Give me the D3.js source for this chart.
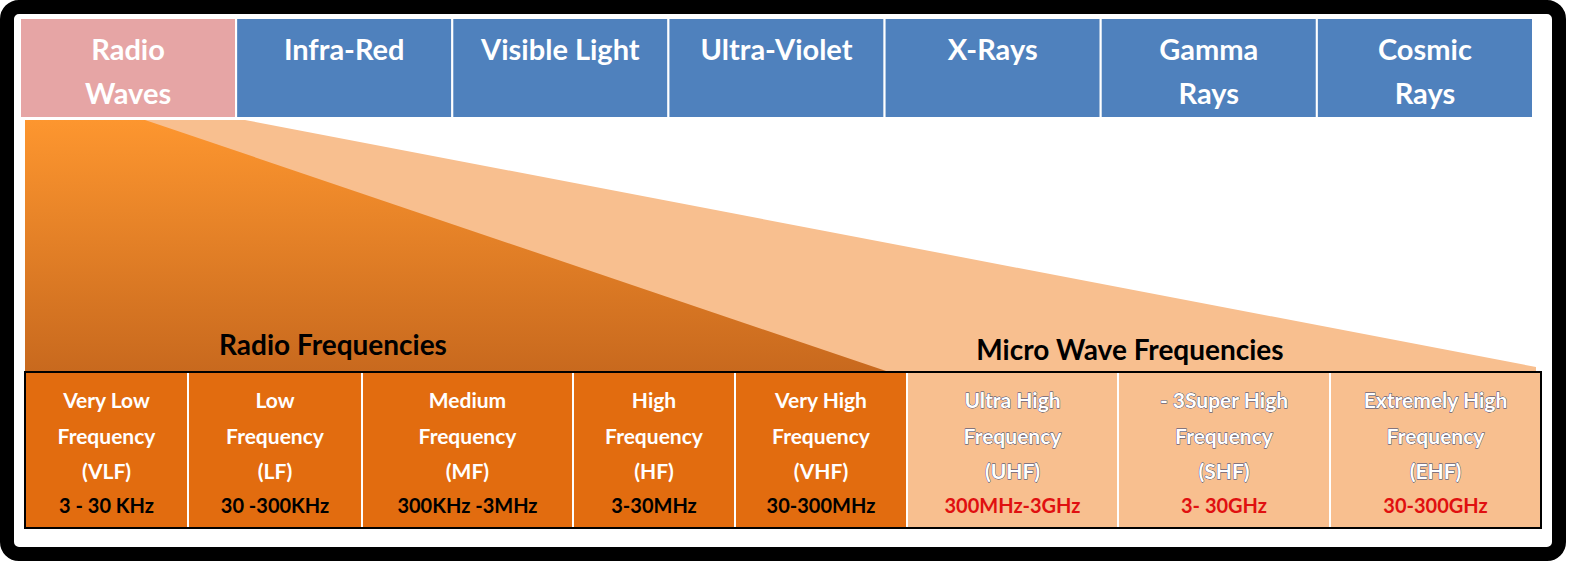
<!DOCTYPE html>
<html><head><meta charset="utf-8">
<script src="https://cdn.jsdelivr.net/npm/d3@7"></script>
<style>body{margin:0;background:#fff}svg{display:block}text{font-family:Lato,"Open Sans",sans-serif;font-weight:bold}</style>
</head><body><svg id="chartsvg" width="1578" height="565"></svg>
<script>
var vis = d3.select("#chartsvg");

let spectrum = ["Radio Waves", "Infra-Red", "Visible Light", "Ultra-Violet", "X-Rays", "Gamma Rays", "Cosmic Rays"];
let spectrumLines = [["Radio", "Waves"], ["Infra-Red"], ["Visible Light"], ["Ultra-Violet"], ["X-Rays"], ["Gamma", "Rays"], ["Cosmic", "Rays"]];
let bandNames = [["Very Low", "Frequency"], ["Low", "Frequency"], ["Medium", "Frequency"], ["High", "Frequency"], ["Very High", "Frequency"],
                 ["Ultra High", "Frequency"], ["- 3Super High", "Frequency"], ["Extremely High", "Frequency"]];
let bandAbbr = ["VLF", "LF", "MF", "HF", "VHF", "UHF", "SHF", "EHF"];
let bandRanges = ["3 - 30 KHz", "30 -300KHz", "300KHz -3MHz", "3-30MHz", "30-300MHz", "300MHz-3GHz", "3- 30GHz", "30-300GHz"];
let bandGroup = ["radio", "radio", "radio", "radio", "radio", "micro", "micro", "micro"];
let groupTitles = ["Radio Frequencies", "Micro Wave Frequencies"];

// column widths in the table are uneven; relative spans
const colSpan = [163, 174, 211, 162, 172, 211, 212, 211];

// frame
vis.append("rect").attr("x", 7).attr("y", 7).attr("width", 1552).attr("height", 547)
    .attr("rx", 12).attr("fill", "#fff").attr("stroke", "#000").attr("stroke-width", 14);

var defs = vis.append("defs");
var grad = defs.append("linearGradient").attr("id", "dark").attr("x1", 0).attr("y1", 0).attr("x2", 0).attr("y2", 1);
grad.append("stop").attr("offset", "0%").attr("stop-color", "#fd962f");
grad.append("stop").attr("offset", "100%").attr("stop-color", "#c8691e");

// top spectrum boxes
var xTop = d3.scaleBand().domain(spectrum).range([20, 1533]);
var specG = vis.selectAll(".spec").data(spectrum).enter().append("g").attr("class", "spec");
specG.append("rect").attr("x", d => xTop(d)).attr("y", 18).attr("width", xTop.bandwidth()).attr("height", 100)
    .attr("fill", (d, i) => i == 0 ? "#e6a5a5" : "#4f81bd").attr("stroke", "#fff").attr("stroke-width", 2);
specG.each(function (d, i) {
    var lines = spectrumLines[i];
    d3.select(this).selectAll("text").data(lines).enter().append("text")
        .attr("x", xTop(d) + xTop.bandwidth() / 2)
        .attr("y", (l, j) => (lines.length == 1 ? 50 : 50 + j * 44) + 10)
        .attr("text-anchor", "middle").attr("fill", "#fff").attr("font-size", 29).text(l => l);
});

// table columns
var cum = [0];
colSpan.forEach(w => cum.push(cum[cum.length - 1] + w));
var xCol = d3.scaleLinear().domain([0, cum[cum.length - 1]]).range([25, 1541]);
var tTop = 372, tBot = 528;
var lastRadio = bandGroup.lastIndexOf("radio");

// fans
vis.append("path").attr("fill", "#f8bf8f")
    .attr("d", d3.line()([[25, 120], [245, 120], [1536, 367], [1536, tTop], [25, tTop]]));
vis.append("path").attr("fill", "url(#dark)")
    .attr("d", d3.line()([[25, 120], [145, 120], [xCol(cum[lastRadio + 1]) - 18, tTop], [25, tTop]]));

vis.append("text").attr("x", 333).attr("y", 355).attr("text-anchor", "middle").attr("font-size", 28)
    .attr("fill", "#000").text(groupTitles[0]);
vis.append("text").attr("x", 1130).attr("y", 360).attr("text-anchor", "middle").attr("font-size", 28)
    .attr("fill", "#000").text(groupTitles[1]);

var cells = vis.selectAll(".cell").data(bandAbbr).enter().append("g").attr("class", "cell");
cells.append("rect").attr("x", (d, i) => xCol(cum[i])).attr("y", tTop)
    .attr("width", (d, i) => xCol(cum[i + 1]) - xCol(cum[i])).attr("height", tBot - tTop)
    .attr("fill", (d, i) => bandGroup[i] == "radio" ? "#e26c0f" : "#f8bf8f")
    .attr("stroke", "#fff").attr("stroke-width", 2);
cells.each(function (d, i) {
    var g = d3.select(this), cx = (xCol(cum[i]) + xCol(cum[i + 1])) / 2;
    var micro = bandGroup[i] == "micro";
    var lines = bandNames[i].concat(["(" + d + ")"]);
    g.selectAll("text.nm").data(lines).enter().append("text").attr("class", "nm")
        .attr("x", cx).attr("y", (l, j) => 408 + j * 35.5).attr("text-anchor", "middle")
        .attr("font-size", 21).attr("font-weight", "normal").attr("fill", "#fff")
        .attr("stroke", micro ? "#1f3a70" : "none").attr("stroke-width", 0.8).attr("paint-order", "stroke")
        .text(l => l);
    g.append("text").attr("x", cx).attr("y", 513).attr("text-anchor", "middle")
        .attr("font-size", 20).attr("fill", micro ? "#e01010" : "#000").text(bandRanges[i]);
});
vis.append("rect").attr("x", 25).attr("y", tTop).attr("width", 1516).attr("height", tBot - tTop)
    .attr("fill", "none").attr("stroke", "#000").attr("stroke-width", 2);
</script></body></html>
